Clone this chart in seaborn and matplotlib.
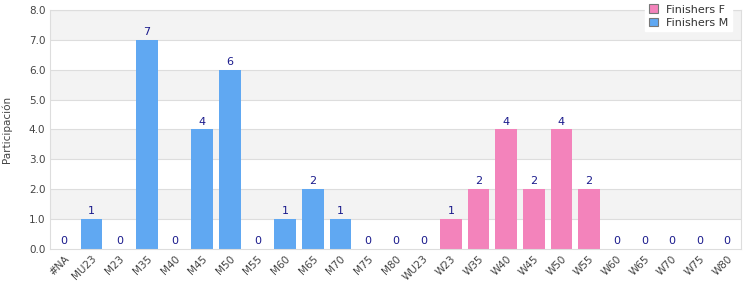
import pandas as pd
import matplotlib.pyplot as plt
import seaborn as sns

# Data
categories = ['#NA', 'MU23', 'M23', 'M35', 'M40', 'M45', 'M50', 'M55', 'M60', 'M65',
              'M70', 'M75', 'M80', 'WU23', 'W23', 'W35', 'W40', 'W45', 'W50', 'W55',
              'W60', 'W65', 'W70', 'W75', 'W80']
values = [0, 1, 0, 7, 0, 4, 6, 0, 1, 2, 1, 0, 0, 0, 1, 2, 4, 2, 4, 2, 0, 0, 0, 0, 0]
series = ['Finishers M'] * 13 + ['Finishers F'] * 12
series_order = ['Finishers F', 'Finishers M']
palette = {'Finishers F': '#f383bb', 'Finishers M': '#60a8f2'}

df = pd.DataFrame({'cat': categories, 'val': values, 'serie': series})

sns.set_style('white')
plt.rcParams['font.family'] = ['DejaVu Sans']

fig, ax = plt.subplots(figsize=(7.5, 3), dpi=100)
fig.subplots_adjust(left=0.067, right=0.988, top=0.967, bottom=0.17)

# Alternating background bands
for lo in range(0, 8):
    ax.axhspan(lo, lo + 1, color='#f3f3f3' if lo % 2 == 1 else 'white', zorder=0, lw=0)
for y in range(1, 9):
    ax.axhline(y, color='#dddddd', lw=0.8, zorder=0.5)

sns.barplot(data=df, x='cat', y='val', hue='serie', hue_order=series_order,
            palette=palette, order=categories, dodge=False, width=0.78,
            saturation=1, linewidth=0, ax=ax, zorder=2)

for cont in ax.containers:
    ax.bar_label(cont, fmt='%d', padding=2, fontsize=8, color='#1a1a8c')

ax.set_ylim(0, 8)
ax.set_xlim(-0.5, len(categories) - 0.5)
ax.set_yticks(range(0, 9))
ax.set_yticklabels([f'{v:.1f}' for v in range(0, 9)])
ax.tick_params(axis='both', labelsize=7.5, colors='#444444', length=0)
plt.setp(ax.get_xticklabels(), rotation=45, ha='right', rotation_mode='anchor')
ax.set_xlabel('')
ax.set_ylabel('Participación', fontsize=7.5, color='#444444', labelpad=12)

for side in ['left', 'right', 'bottom', 'top']:
    ax.spines[side].set_color('#dddddd')
    ax.spines[side].set_linewidth(0.8)

ax.legend(loc='upper right', bbox_to_anchor=(0.995, 1.06), frameon=True,
          fancybox=False, edgecolor='white', framealpha=1, fontsize=8,
          handlelength=0.8, handleheight=0.8, borderpad=0.3, labelspacing=0.3)
for h in ax.get_legend().legend_handles:
    h.set_edgecolor('#777777')
    h.set_linewidth(0.8)
for t in ax.get_legend().get_texts():
    t.set_color('#333333')

fig.savefig('out.png', dpi=100)
